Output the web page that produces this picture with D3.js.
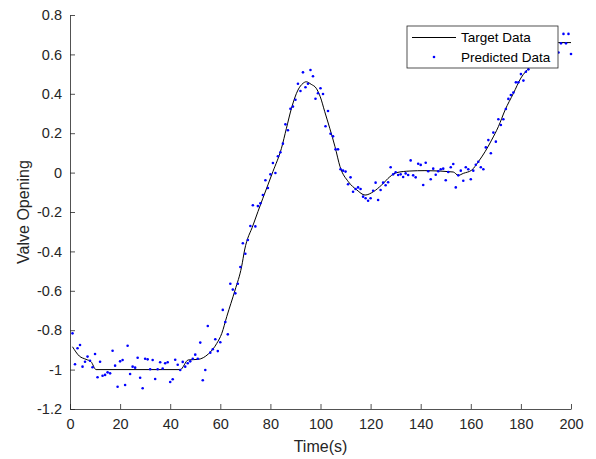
<!DOCTYPE html>
<html><head><meta charset="utf-8">
<script src="https://cdn.jsdelivr.net/npm/d3@7"></script>
<style>body{margin:0;background:#fff}svg{display:block}</style>
</head><body>
<svg id="c" width="596" height="459"></svg>
<script>
// ---- data ----
const targetT = [1, 3.7, 6.4, 8.4, 10.4, 44, 47.2, 51.2, 55.2, 58.6, 60.6, 62.6, 65.9, 68.5, 69.7, 73.1, 77, 81, 84.4, 86.4, 88.4, 91, 93, 94.3, 96.3, 98.3, 99.9, 101.7, 103.7, 105.8, 107.8, 111.1, 114.5, 117.8, 121.1, 124.4, 127.7, 130.4, 135.7, 141.7, 153, 155, 157, 160.4, 163, 165.7, 168.3, 171, 173.7, 177, 180, 183.6, 187, 191, 195, 200];
const targetV = [-0.884, -0.931, -0.948, -0.96, -1.0, -1.0, -0.951, -0.948, -0.921, -0.867, -0.816, -0.73, -0.596, -0.478, -0.393, -0.266, -0.13, 0.005, 0.123, 0.225, 0.326, 0.419, 0.453, 0.461, 0.448, 0.428, 0.385, 0.309, 0.225, 0.131, 0.03, -0.046, -0.088, -0.114, -0.097, -0.063, -0.021, 0, 0.008, 0.01, 0.003, -0.014, -0.004, 0.013, 0.055, 0.106, 0.165, 0.233, 0.318, 0.402, 0.48, 0.537, 0.59, 0.63, 0.66, 0.66];

const predT = d3.range(1, 201);
const predV = [
 -0.816,-0.973,-0.892,-0.875,-0.985,-0.96,-0.934,-0.955,-0.988,-0.921,
 -1.039,-0.96,-1.031,-1.027,-1.014,-1.019,-0.904,-0.98,-1.087,-0.958,
 -0.951,-1.078,-0.879,-1.022,-0.985,-0.99,-0.94,-1.041,-1.095,-0.945,
 -0.948,-0.998,-0.951,-1.048,-0.998,-0.963,-0.995,-0.968,-0.963,-1.063,
 -1.049,-0.95,-0.975,-1.002,-0.961,-0.985,-0.968,-0.958,-0.945,-0.924,
 -0.945,-0.863,-1.054,-1.002,-0.779,-0.914,-0.897,-0.846,-0.906,-0.861,
 -0.697,-0.758,-0.821,-0.564,-0.594,-0.613,-0.564,-0.479,-0.359,-0.412,
 -0.342,-0.271,-0.166,-0.273,-0.17,-0.156,-0.114,-0.039,-0.078,-0.009,
 0.049,-0.002,0.083,0.103,0.147,0.245,0.215,0.324,0.335,0.37,
 0.451,0.414,0.509,0.433,0.451,0.521,0.489,0.375,0.403,0.428,
 0.399,0.235,0.313,0.197,0.184,0.118,0.118,0.017,0.01,0.005,
 -0.059,-0.024,-0.097,-0.083,-0.075,-0.083,-0.122,-0.13,-0.143,-0.13,
 -0.092,-0.051,-0.139,-0.088,-0.051,-0.064,-0.049,0.027,-0.009,0.002,
 -0.012,-0.009,-0.022,-0.004,-0.012,0.062,-0.014,-0.024,0.045,0.039,
 -0.063,0.05,0.007,-0.034,0.02,-0.011,0.007,0.017,0.02,-0.039,
 0.003,0.027,0.044,-0.075,-0.014,0.01,-0.041,0.027,0.017,-0.034,
 0.01,0.04,0.055,0.027,0.017,0.128,0.165,0.098,0.203,0.157,
 0.271,0.242,0.271,0.323,0.374,0.394,0.406,0.458,0.458,0.5,
 0.467,0.512,0.524,0.538,0.56,0.55,0.6,0.58,0.62,0.6,
 0.64,0.62,0.66,0.64,0.61,0.656,0.704,0.656,0.704,0.602
];

const xTicks = [0,20,40,60,80,100,120,140,160,180,200];
const yTicks = [0.8,0.6,0.4,0.2,0,-0.2,-0.4,-0.6,-0.8,-1,-1.2];
const yTickLabels = ["0.8","0.6","0.4","0.2","0","-0.2","-0.4","-0.6","-0.8","-1","-1.2"];
const legendLabels = ["Target Data","Predicted Data"];

// ---- layout ----
const L = 70, R = 571, T = 15, B = 409;
const axisCol = "#262626";
const font = "'Liberation Sans', Arial, Helvetica, sans-serif";
const svg = d3.select("#c");
const x = d3.scaleLinear().domain([0,200]).range([L,R]);
const y = d3.scaleLinear().domain([-1.2,0.8]).range([B,T]);

// target line
const line = d3.line().x(d=>x(d[0])).y(d=>y(d[1])).curve(d3.curveMonotoneX);
svg.append("path").datum(targetT.map((t,i)=>[t,targetV[i]]))
  .attr("d", line).attr("fill","none").attr("stroke","#000").attr("stroke-width",1);

// predicted points
svg.append("g").selectAll("circle").data(predT.map((t,i)=>[t,predV[i]])).join("circle")
  .attr("cx", d=>x(d[0])).attr("cy", d=>y(d[1])).attr("r", 1.3).attr("fill","#0000ff");

// axes
const xAxis = d3.axisBottom(x).tickValues(xTicks).tickSizeInner(-5).tickSizeOuter(0).tickPadding(10).tickFormat(d3.format("d"));
const gx = svg.append("g").attr("transform",`translate(0,${B})`).call(xAxis);
const yAxis = d3.axisLeft(y).tickValues(yTicks).tickSizeInner(-5).tickSizeOuter(0).tickPadding(8)
  .tickFormat((d,i)=>yTickLabels[i]);
const gy = svg.append("g").attr("transform",`translate(${L},0)`).call(yAxis);
[gx,gy].forEach(g=>{
  g.select(".domain").attr("stroke",axisCol).attr("stroke-width",0.8);
  g.selectAll(".tick line").attr("stroke",axisCol).attr("stroke-width",0.8);
  g.selectAll(".tick text").attr("fill",axisCol).style("font-family",font).style("font-size","14.5px");
});

// axis labels
svg.append("text").attr("x",(L+R)/2).attr("y",452).attr("text-anchor","middle")
  .style("font-family",font).style("font-size","16px").attr("fill",axisCol).text("Time(s)");
svg.append("text").attr("transform",`translate(29,${(T+B)/2}) rotate(-90)`).attr("text-anchor","middle")
  .style("font-family",font).style("font-size","16px").attr("fill",axisCol).text("Valve Opening");

// legend
const lg = svg.append("g");
lg.append("rect").attr("x",407).attr("y",26).attr("width",151).attr("height",42)
  .attr("fill","#fff").attr("stroke",axisCol).attr("stroke-width",0.8);
lg.append("line").attr("x1",412).attr("x2",456).attr("y1",37.5).attr("y2",37.5).attr("stroke","#000").attr("stroke-width",1);
lg.append("circle").attr("cx",434).attr("cy",57).attr("r",1.3).attr("fill","#0000ff");
lg.selectAll("text.lt").data(legendLabels).join("text").attr("class","lt")
  .attr("x",461).attr("y",(d,i)=>37.5+i*19.5).attr("dy","0.35em")
  .style("font-family",font).style("font-size","13.5px").attr("fill","#000").text(d=>d);
</script>
</body></html>
